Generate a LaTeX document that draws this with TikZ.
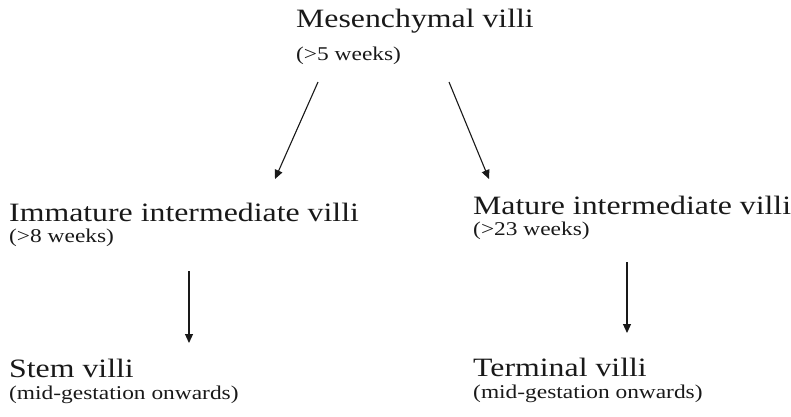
\documentclass[tikz,border=0pt]{standalone}
\usepackage{fontspec}
\setmainfont[FakeStretch=1.2]{Liberation Serif}
\usetikzlibrary{arrows.meta}
\tikzset{
  title/.style={anchor=base west, inner sep=0pt, text=black!90, font=\fontsize{26.5}{30}\selectfont},
  sub/.style={anchor=base west, inner sep=0pt, text=black!90, font=\fontsize{19.5}{22}\selectfont},
  arr/.style={draw=black!90, line width=1.1pt, -{Triangle[length=9pt,width=8pt]}}
}
\begin{document}
\begin{tikzpicture}[x=1pt,y=-1pt]
\useasboundingbox (0,0) rectangle (791,416);
\node[title] (mes) at (296,27) {Mesenchymal villi};
\node[sub] (mesw) at (296,60) {(>5 weeks)};
\node[title] (imm) at (9,221) {Immature intermediate villi};
\node[sub] (immw) at (9,242) {(>8 weeks)};
\node[title] (mat) at (473,214) {Mature intermediate villi};
\node[sub] (matw) at (473,235) {(>23 weeks)};
\node[title] (stem) at (9,377) {Stem villi};
\node[sub] (stemw) at (9,399) {(mid-gestation onwards)};
\node[title] (term) at (473,376) {Terminal villi};
\node[sub] (termw) at (473,398) {(mid-gestation onwards)};
\coordinate (a1s) at (318,82);
\coordinate (a1e) at (275,179);
\coordinate (a2s) at (449,82);
\coordinate (a2e) at (489,179);
\coordinate (a3s) at (189,271);
\coordinate (a3e) at (189,343);
\coordinate (a4s) at (627,262);
\coordinate (a4e) at (627,333);
\draw[arr] (a1s) -- (a1e);
\draw[arr] (a2s) -- (a2e);
\draw[arr] (a3s) -- (a3e);
\draw[arr] (a4s) -- (a4e);
\end{tikzpicture}
\end{document}
